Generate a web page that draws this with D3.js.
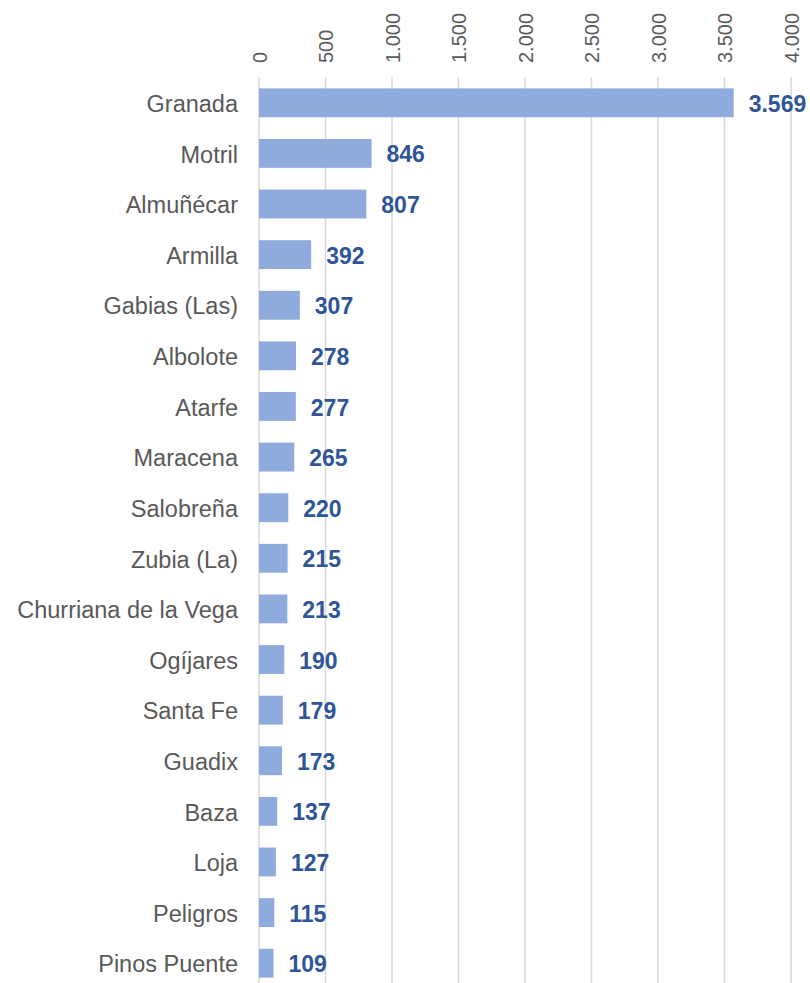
<!DOCTYPE html>
<html>
<head>
<meta charset="utf-8">
<script src="https://cdn.jsdelivr.net/npm/d3@7"></script>
<style>
  body { margin: 0; background: #fff; }
  text { font-family: "Liberation Sans", Arial, sans-serif; }
</style>
</head>
<body>
<div id="chart"></div>
<script>
const municipios = ["Granada", "Motril", "Almuñécar", "Armilla", "Gabias (Las)", "Albolote", "Atarfe",
  "Maracena", "Salobreña", "Zubia (La)", "Churriana de la Vega", "Ogíjares", "Santa Fe", "Guadix",
  "Baza", "Loja", "Peligros", "Pinos Puente"];
const valores = [3569, 846, 807, 392, 307, 278, 277, 265, 220, 215, 213, 190, 179, 173, 137, 127, 115, 109];
const ticks = [0, 500, 1000, 1500, 2000, 2500, 3000, 3500, 4000];

const width = 810, height = 983;
const svg = d3.select("#chart").append("svg")
  .attr("width", width)
  .attr("height", height);

const es = d3.formatLocale({ decimal: ",", thousands: ".", grouping: [3], currency: ["", "€"] });
const fmt = es.format(",d");

const x = d3.scaleLinear().domain([0, 4000]).range([259, 791]);
const y = d3.scaleBand().domain(municipios).range([77.5, 988.5]).paddingInner(0.43).paddingOuter(0.215);

// lineas de rejilla verticales
svg.selectAll("line.grid")
  .data(ticks)
  .enter()
  .append("line")
  .attr("class", "grid")
  .attr("x1", d => x(d))
  .attr("x2", d => x(d))
  .attr("y1", 77)
  .attr("y2", height)
  .style("stroke", "#d9d9d9")
  .style("stroke-width", 1.5);

// eje superior con etiquetas giradas
const xAxis = d3.axisTop(x).tickValues(ticks).tickFormat(fmt).tickSize(0).tickPadding(0);
const gx = svg.append("g")
  .attr("transform", "translate(0, 63)")
  .call(xAxis);
gx.select(".domain").remove();
gx.selectAll("text")
  .attr("transform", "rotate(-90)")
  .attr("x", 0)
  .attr("y", 0)
  .attr("dy", "0.35em")
  .attr("text-anchor", "start")
  .style("font-size", "20px")
  .style("fill", "#595959")
  .style("font-family", "'Liberation Sans', Arial, sans-serif");

// barras
svg.selectAll("rect.bar")
  .data(valores)
  .enter()
  .append("rect")
  .attr("class", "bar")
  .attr("x", x(0))
  .attr("y", (d, i) => y(municipios[i]))
  .attr("width", d => x(d) - x(0))
  .attr("height", y.bandwidth())
  .style("fill", "#8faadc");

// etiquetas de categoria
svg.selectAll("text.cat")
  .data(municipios)
  .enter()
  .append("text")
  .attr("class", "cat")
  .attr("x", 238)
  .attr("y", d => y(d) + y.bandwidth() / 2 + 1)
  .attr("dy", "0.35em")
  .attr("text-anchor", "end")
  .style("font-size", "23.5px")
  .style("fill", "#595959")
  .text(d => d);

// etiquetas de valor
svg.selectAll("text.val")
  .data(valores)
  .enter()
  .append("text")
  .attr("class", "val")
  .attr("x", d => x(d) + 15)
  .attr("y", (d, i) => y(municipios[i]) + y.bandwidth() / 2 + 1)
  .attr("dy", "0.35em")
  .style("font-size", "23px")
  .style("font-weight", "bold")
  .style("fill", "#2f5597")
  .text(d => fmt(d));
</script>
</body>
</html>
